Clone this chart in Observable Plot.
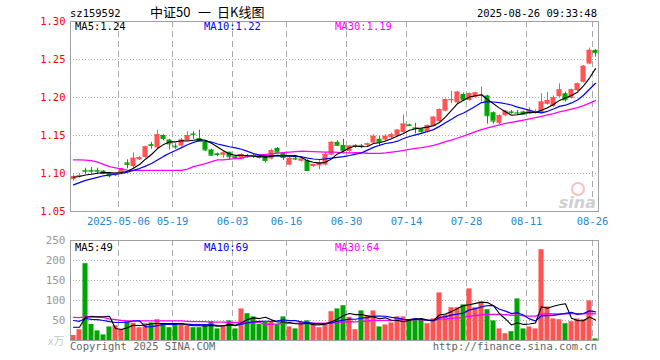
<!DOCTYPE html>
<html><head><meta charset="utf-8">
<script src="https://cdn.jsdelivr.net/npm/d3@7"></script>
<script src="https://cdn.jsdelivr.net/npm/@observablehq/plot@0.6"></script>
<style>
body{margin:0;background:#fff;}
#wrap{position:relative;width:660px;height:360px;overflow:hidden;}
#wrap svg{position:absolute;left:0;}
</style></head><body><div id="wrap"></div>
<script>
const dates = ["04-21","04-22","04-23","04-24","04-25","04-28","04-29","04-30",
"05-06","05-07","05-08","05-09","05-12","05-13","05-14","05-15","05-16","05-19","05-20","05-21","05-22","05-23","05-26","05-27","05-28","05-29","05-30",
"06-03","06-04","06-05","06-06","06-09","06-10","06-11","06-12","06-13","06-16","06-17","06-18","06-19","06-20","06-23","06-24","06-25","06-26","06-27","06-30",
"07-01","07-02","07-03","07-04","07-07","07-08","07-09","07-10","07-11","07-14","07-15","07-16","07-17","07-18","07-21","07-22","07-23","07-24","07-25","07-28","07-29","07-30","07-31",
"08-01","08-04","08-05","08-06","08-07","08-08","08-11","08-12","08-13","08-14","08-15","08-18","08-19","08-20","08-21","08-22","08-25","08-26"];
const open  = [1.092,1.096,1.104,1.104,1.104,1.103,1.100,1.097,1.101,1.114,1.109,1.118,1.121,1.138,1.134,1.150,1.144,1.136,1.136,1.143,1.152,1.146,1.141,1.131,1.126,1.124,1.128,1.122,1.119,1.123,1.124,1.122,1.124,1.119,1.133,1.127,1.111,1.120,1.116,1.117,1.109,1.110,1.111,1.124,1.141,1.137,1.129,1.135,1.137,1.137,1.140,1.145,1.144,1.147,1.149,1.154,1.164,1.160,1.159,1.154,1.162,1.168,1.182,1.196,1.193,1.204,1.196,1.200,1.202,1.202,1.180,1.166,1.176,1.181,1.180,1.181,1.178,1.180,1.180,1.191,1.188,1.201,1.205,1.199,1.209,1.220,1.244,1.262];
const high  = [1.098,1.099,1.107,1.108,1.107,1.104,1.101,1.101,1.107,1.118,1.127,1.122,1.136,1.141,1.157,1.151,1.145,1.139,1.146,1.155,1.155,1.157,1.142,1.132,1.127,1.129,1.128,1.124,1.126,1.125,1.126,1.124,1.124,1.132,1.134,1.127,1.121,1.122,1.120,1.118,1.112,1.117,1.127,1.142,1.143,1.145,1.137,1.138,1.138,1.140,1.151,1.149,1.151,1.153,1.158,1.177,1.165,1.166,1.159,1.164,1.175,1.185,1.198,1.208,1.208,1.206,1.206,1.207,1.214,1.203,1.181,1.177,1.183,1.183,1.183,1.182,1.187,1.184,1.205,1.207,1.202,1.218,1.207,1.211,1.219,1.242,1.265,1.263];
const low   = [1.090,1.094,1.099,1.099,1.099,1.099,1.094,1.096,1.100,1.106,1.106,1.117,1.120,1.132,1.133,1.143,1.131,1.132,1.135,1.142,1.145,1.142,1.129,1.123,1.122,1.120,1.118,1.120,1.118,1.120,1.120,1.119,1.114,1.118,1.128,1.117,1.110,1.117,1.115,1.103,1.108,1.105,1.110,1.123,1.136,1.128,1.128,1.133,1.133,1.135,1.139,1.137,1.142,1.146,1.148,1.153,1.162,1.152,1.153,1.153,1.161,1.167,1.181,1.192,1.192,1.195,1.195,1.199,1.194,1.165,1.165,1.164,1.175,1.178,1.177,1.177,1.177,1.178,1.179,1.190,1.187,1.200,1.194,1.198,1.208,1.219,1.243,1.253];
const close = [1.096,1.097,1.103,1.103,1.103,1.100,1.097,1.100,1.106,1.112,1.120,1.121,1.135,1.137,1.151,1.146,1.139,1.135,1.144,1.150,1.151,1.143,1.131,1.124,1.125,1.127,1.122,1.121,1.125,1.122,1.123,1.121,1.117,1.130,1.128,1.121,1.120,1.119,1.119,1.104,1.112,1.114,1.125,1.141,1.137,1.130,1.136,1.137,1.136,1.139,1.149,1.141,1.149,1.151,1.157,1.165,1.163,1.159,1.155,1.163,1.174,1.184,1.197,1.197,1.207,1.197,1.205,1.206,1.203,1.176,1.169,1.176,1.182,1.180,1.1795,1.178,1.183,1.181,1.194,1.196,1.200,1.210,1.197,1.210,1.218,1.241,1.262,1.259];
const volume = [12.5,27,192,40,24,14,34,37,28,48,43,32,42,44,52,42,32,42,42,36,32,32,40,47,29,37,49,29,79,67,59,40,45,47,40,59,34,29,45,49,40,32,42,72,79,87,58,27,74,62,74,34,39,44,59,59,52,52,52,42,54,119,64,82,82,89,129,82,97,77,49,29,17,22,104,29,34,29,227,84,54,52,42,47,54,52,99,4];
const ma5Head  = [1.095,1.096,1.098,1.099];
const ma10Head = [1.085,1.088,1.091,1.093,1.095,1.097,1.098,1.099,1.100];
const ma30Head = [1.118,1.118,1.1175,1.117,1.115,1.112,1.109,1.1075,1.106,1.104,1.104,1.104,1.104,1.104,1.104,1.104,1.104,1.104,1.104,1.1057,1.109,1.111,1.113,1.1157,1.118,1.118,1.119,1.1196,1.120];
const vma5Head  = [33,33,58,60];
const vma10Head = [50,48,55,53,52,50,47,45,45];
const vma30Head = [58,57,59,60,59,57,54,52,50,49,49,49,49,49,49,49,49,49,49,48,47,47,47,46,46,46,45,45,45];
const priceTicks = [1.05,1.10,1.15,1.20,1.25,1.30];
const volTicks = [50,100,150,200,250];
const dateTicks = ["05-06","05-19","06-03","06-16","06-30","07-14","07-28","08-11","08-26"];
const dateTickLabels = ["2025-05-06","05-19","06-03","06-16","06-30","07-14","07-28","08-11","08-26"];
const priceLegend = ["MA5:1.24","MA10:1.22","MA30:1.19"];
const volLegend = ["MA5:49","MA10:69","MA30:64"];

const RED = "#ff5454", GREEN = "#00a600";
const MONO = "DejaVu Sans Mono, monospace";
const n = dates.length;
function rolling(arr, w, head) {
  return arr.map((_, i) => i < head.length ? head[i] : d3.mean(arr.slice(i - w + 1, i + 1)));
}
const ma5 = rolling(close, 5, ma5Head), ma10 = rolling(close, 10, ma10Head), ma30 = rolling(close, 30, ma30Head);
const vma5 = rolling(volume, 5, vma5Head), vma10 = rolling(volume, 10, vma10Head), vma30 = rolling(volume, 30, vma30Head);
const data = dates.map((d, i) => ({i, date: d, open: open[i], high: high[i], low: low[i], close: close[i], vol: volume[i],
  ma5: ma5[i], ma10: ma10[i], ma30: ma30[i], vma5: vma5[i], vma10: vma10[i], vma30: vma30[i],
  col: close[i] >= open[i] ? RED : GREEN}));
const tickPos = dateTicks.map(t => dates.indexOf(t) - 0.5);
const W = 0.42;

const price = Plot.plot({
  width: 660, height: 232, marginLeft: 70, marginRight: 62, marginTop: 21, marginBottom: 21,
  style: {fontFamily: MONO, fontSize: "10px", background: "transparent", overflow: "visible"},
  x: {domain: [-0.5, n - 0.5], label: null},
  y: {domain: [1.05, 1.30], label: null},
  marks: [
    Plot.ruleY(priceTicks.slice(1, -1), {stroke: "#aaa", strokeDasharray: "1,2"}),
    Plot.ruleX(tickPos, {stroke: "#aaa", strokeDasharray: "6,4"}),
    Plot.ruleX(data, {x: "i", y1: "low", y2: "high", stroke: "col"}),
    Plot.rect(data, {x1: d => d.i - W, x2: d => d.i + W, y1: "open", y2: "close", fill: "col"}),
    Plot.ruleY(data, {y: "close", x1: d => d.i - W, x2: d => d.i + W, stroke: "col"}),
    Plot.line(data, {x: "i", y: "ma30", stroke: "#ff00ff", strokeWidth: 1.3}),
    Plot.line(data, {x: "i", y: "ma10", stroke: "#0000ff", strokeWidth: 1.2}),
    Plot.line(data, {x: "i", y: "ma5", stroke: "#000", strokeWidth: 1.1}),
    Plot.frame({stroke: "#a0a0a0"}),
    Plot.axisY(priceTicks, {tickSize: 0, tickPadding: 5, fill: "#f00", fontSize: 10.5, label: null, tickFormat: d => d.toFixed(2)}),
    Plot.axisX(tickPos, {tickSize: 0, tickPadding: 6, fill: "#1e88d8", fontSize: 10.5, label: null,
      tickFormat: (d, k) => dateTickLabels[k]})
  ]
});
price.style.top = "0px";

const vol = Plot.plot({
  width: 660, height: 120, marginLeft: 70, marginRight: 62, marginTop: 10, marginBottom: 10,
  style: {fontFamily: MONO, fontSize: "10px", background: "transparent", overflow: "visible"},
  x: {domain: [-0.5, n - 0.5], axis: null},
  y: {domain: [0, 250], label: null},
  marks: [
    Plot.ruleY(volTicks.slice(0, -1), {stroke: "#aaa", strokeDasharray: "1,2"}),
    Plot.ruleX(tickPos, {stroke: "#aaa", strokeDasharray: "6,4"}),
    Plot.rect(data, {x1: d => d.i - W, x2: d => d.i + W, y1: 0, y2: "vol", fill: "col"}),
    Plot.line(data, {x: "i", y: "vma30", stroke: "#ff00ff", strokeWidth: 1.3}),
    Plot.line(data, {x: "i", y: "vma10", stroke: "#0000ff", strokeWidth: 1.2}),
    Plot.line(data, {x: "i", y: "vma5", stroke: "#000", strokeWidth: 1.1}),
    Plot.frame({stroke: "#a0a0a0"}),
    Plot.axisY(volTicks, {tickSize: 0, tickPadding: 5, fill: "#999", fontSize: 11, label: null})
  ]
});
vol.style.top = "230px";

const wrap = document.getElementById("wrap");
wrap.appendChild(price);
wrap.appendChild(vol);

const ov = d3.select(wrap).append("svg").attr("width", 660).attr("height", 360).style("top", "0px");
function txt(x, y, s, opt = {}) {
  ov.append("text").attr("x", x).attr("y", y).text(s)
    .attr("font-family", opt.font || MONO).attr("font-size", opt.size || 10.5)
    .attr("fill", opt.fill || "#000").attr("text-anchor", opt.anchor || "start")
    .attr("font-style", opt.style || "normal").attr("font-weight", opt.weight || "normal");
}
txt(70, 17, "sz159592");
const CJK = "Noto Sans CJK SC";
txt(150, 17, "中证50", {font: CJK, size: 13});
txt(198, 17, "一", {font: CJK, size: 13});
txt(217, 17, "日K线图", {font: CJK, size: 13});
txt(597, 17, "2025-08-26 09:33:48", {anchor: "end"});
const legX = [75, 204, 335], legC = ["#000", "#0000ff", "#ff00ff"];
priceLegend.forEach((s, k) => txt(legX[k], 30, s, {fill: legC[k]}));
volLegend.forEach((s, k) => txt(legX[k], 251, s, {fill: legC[k]}));
txt(48, 345, "x万", {font: CJK, size: 11, fill: "#c8c8c8"});
txt(70, 350, "Copyright 2025 SINA.COM", {fill: "#666"});
txt(597, 350, "http://finance.sina.com.cn", {fill: "#666", anchor: "end"});
ov.append("circle").attr("cx", 578).attr("cy", 189).attr("r", 6).attr("fill", "none").attr("stroke", "#f4c0c0").attr("stroke-width", 2);
txt(596, 208, "sina", {font: "DejaVu Sans", size: 16, fill: "#d0d0d0", anchor: "end", style: "italic", weight: "bold"});
</script></body></html>
